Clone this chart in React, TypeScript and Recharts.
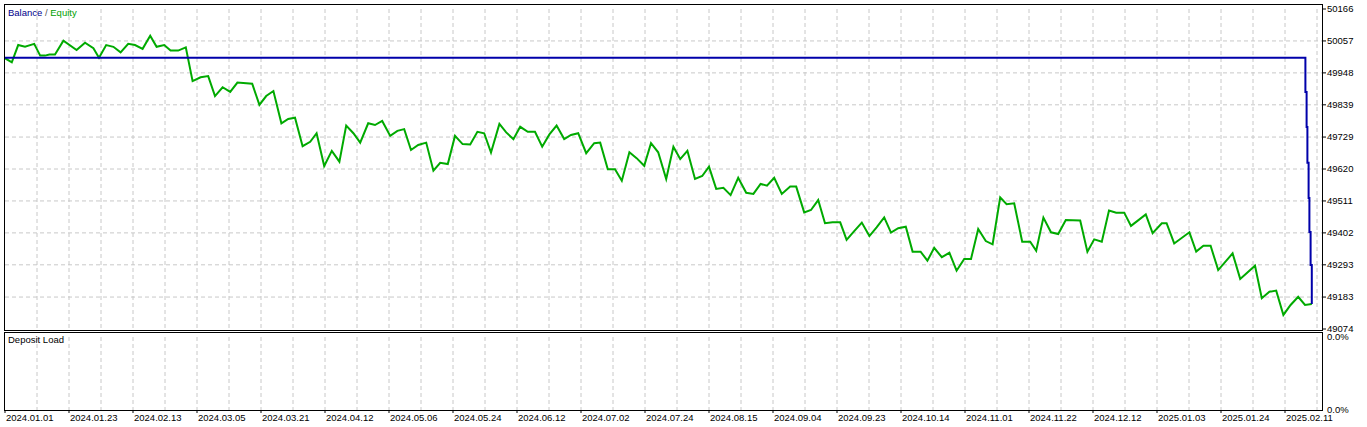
import React from 'react';
import { LineChart, Line, ComposedChart, Bar, XAxis, YAxis, CartesianGrid } from 'recharts';

// ─── Data ─────────────────────────────────────────────────────────────────────

// x is the test step position (bar index along the time axis)
const equityX = [
  0, 1.7, 3.3, 5, 7.3, 8.8, 10, 11.1, 12.5, 14.6, 17.9, 20, 22.1, 23.5, 25.3, 27.1, 28.9, 30.8, 32.5, 34.4,
  36.3, 37.9, 39.8, 41.4, 43.3, 45.2, 46.9, 48.9, 50.8, 52.5, 54.4, 56.3, 58.1, 61.8, 63.6, 65.3, 67.1, 69.1, 70.8, 72.5,
  74.4, 76.3, 77.9, 79.8, 81.7, 83.6, 85.3, 87.1, 88.8, 90.8, 92.5, 94.3, 96.3, 98.1, 99.8, 101.5, 103.3, 105.3, 107.1, 108.8,
  110.7, 112.5, 114.4, 116.3, 118.1, 119.8, 121.5, 123.6, 125.3, 127.1, 128.8, 130.7, 132.5, 134.3, 136.1, 137.9, 139.8, 141.5, 143.3, 145.3,
  147.3, 148.8, 150.7, 152.5, 154.2, 156.1, 157.9, 159.8, 161.5, 163.3, 165.3, 167.1, 168.8, 170.6, 172.5, 174.3, 176, 177.8, 179.6, 181.4,
  183.3, 185.3, 187.1, 188.9, 190.5, 192.3, 194.2, 196.3, 197.8, 199.8, 201.5, 203.3, 205, 206.9, 208.8, 210.4, 212.3, 214.2, 216.1, 217.9,
  219.8, 221.5, 223.3, 225.2, 226.9, 228.9, 230.6, 232.3, 234.2, 236.1, 237.9, 239.8, 241.5, 243.3, 245.2, 246.9, 248.8, 250.4, 252.3, 254.3,
  256.3, 257.8, 259.6, 261.5, 263.3, 265.2, 268.8, 270.6, 272.3, 274.2, 276, 277.8, 279.8, 281.5, 285.2, 286.9, 289.2, 290.4, 292.3, 296.1,
  297.8, 299.6, 301.4, 303.3, 306.9, 308.8, 312.5, 314.2, 316.1, 317.8, 319.6, 321.4, 323.3, 325, 326.7,
];

const equityValues = [
  49998, 49984, 50043, 50037, 50047, 50007, 50007, 50011, 50011, 50058, 50026, 50051, 50032, 50000, 50043, 50037, 50018, 50047, 50043, 50030,
  50075, 50037, 50043, 50024, 50024, 50035, 49920, 49933, 49937, 49869, 49899, 49883, 49915, 49911, 49839, 49869, 49886, 49776, 49791, 49795,
  49698, 49713, 49742, 49630, 49682, 49645, 49768, 49742, 49710, 49776, 49770, 49784, 49733, 49750, 49756, 49685, 49702, 49710, 49614, 49641,
  49637, 49733, 49705, 49704, 49747, 49742, 49676, 49774, 49745, 49722, 49764, 49747, 49747, 49696, 49738, 49768, 49722, 49736, 49742, 49674,
  49708, 49710, 49619, 49619, 49580, 49677, 49657, 49631, 49708, 49677, 49586, 49696, 49654, 49682, 49586, 49596, 49628, 49552, 49556, 49531,
  49590, 49539, 49535, 49569, 49563, 49590, 49535, 49560, 49560, 49472, 49480, 49514, 49435, 49438, 49438, 49378, 49408, 49437, 49391, 49421,
  49455, 49403, 49418, 49423, 49338, 49338, 49307, 49351, 49319, 49334, 49273, 49313, 49313, 49415, 49374, 49363, 49523, 49500, 49503, 49372,
  49372, 49341, 49454, 49404, 49398, 49446, 49444, 49338, 49380, 49372, 49478, 49471, 49471, 49426, 49465, 49401, 49435, 49435, 49366, 49404,
  49338, 49358, 49358, 49275, 49332, 49245, 49290, 49179, 49201, 49205, 49122, 49156, 49184, 49156, 49159,
];

const balanceX = [0, 325.1, 325.4, 325.6, 325.9, 326.1, 326.4, 326.7];
const balanceValues = [50000, 49883, 49763, 49641, 49521, 49405, 49292, 49159];

const depositLoadX = [0, 326.7];
const depositLoadValues = [0, 0];

const yTicks = [49074, 49183, 49293, 49402, 49511, 49620, 49729, 49839, 49948, 50057, 50166];

const xTickLabels = [
  '2024.01.01', '2024.01.23', '2024.02.13', '2024.03.05', '2024.03.21', '2024.04.12', '2024.05.06',
  '2024.05.24', '2024.06.12', '2024.07.02', '2024.07.24', '2024.08.15', '2024.09.04', '2024.09.23',
  '2024.10.14', '2024.11.01', '2024.11.22', '2024.12.12', '2025.01.03', '2025.01.24', '2025.02.11',
];

// ─── Layout helpers ───────────────────────────────────────────────────────────

const W = 1367;
const X_MAX = 329.25;
const LABEL_STEP = 16;
const GRID_STEP = 8;
const FONT = '"Liberation Sans", Arial, sans-serif';
const GRID = '#c8c8c8';

const xTicks = xTickLabels.map((_, i) => i * LABEL_STEP);
const gridX: number[] = [];
for (let v = GRID_STEP; v <= X_MAX; v += GRID_STEP) gridX.push(v);
const gridY = yTicks.slice(1, -1);

const equityData = equityX.map((x, i) => ({ x, v: equityValues[i] }));
const balanceData = balanceX.map((x, i) => ({ x, v: balanceValues[i] }));
const depositData = depositLoadX.map((x, i) => ({ x, v: depositLoadValues[i] }));

const tickFont = { fontSize: 9.5, fill: '#000', fontFamily: FONT };

function DateTick({ x, y, payload }: any) {
  const idx = xTicks.indexOf(payload.value);
  return (
    <text x={x + 1} y={y} dy="0.71em" textAnchor="start" {...tickFont}>
      {xTickLabels[idx] ?? ''}
    </text>
  );
}

const frame = (left: number, top: number, right: number, bottom: number): React.CSSProperties => ({
  position: 'absolute', left, top, width: right - left + 1, height: bottom - top + 1,
  border: '1px solid #000', boxSizing: 'border-box', pointerEvents: 'none',
});

export default function App() {
  return (
    <div style={{ position: 'absolute', left: 0, top: 0, width: W, height: 427, background: '#fff', overflow: 'hidden' }}>
      {/* Deposit load */}
      <div style={{ position: 'absolute', left: 0, top: 332 }}>
        <ComposedChart width={W} height={95} data={depositData} margin={{ top: 5, right: 0, left: 5, bottom: 0 }}>
          <CartesianGrid stroke={GRID} strokeDasharray="4 3" horizontal={false} verticalValues={gridX} />
          <XAxis type="number" dataKey="x" domain={[0, X_MAX]} ticks={xTicks} interval={0} height={17}
                 allowDataOverflow axisLine={false} tickLine={{ stroke: '#000' }} tickSize={3} tickMargin={1}
                 tick={<DateTick />} />
          <YAxis orientation="right" width={45} domain={[0, 0.01]} ticks={[0, 0.01]} interval={0}
                 axisLine={false} tickLine={false} tickSize={4} tickMargin={1}
                 tickFormatter={(v: number) => `${v.toFixed(1)}%`} tick={tickFont} />
          <Bar dataKey="v" fill="#ff8c00" barSize={2} isAnimationActive={false} />
        </ComposedChart>
      </div>

      {/* Balance / Equity */}
      <div style={{ position: 'absolute', left: 0, top: 0 }}>
        <LineChart width={W} height={337} margin={{ top: 9, right: 0, left: 5, bottom: 8 }}>
          <CartesianGrid stroke={GRID} strokeDasharray="4 3" horizontalValues={gridY} verticalValues={gridX} />
          <XAxis type="number" dataKey="x" domain={[0, X_MAX]} hide allowDataOverflow />
          <YAxis orientation="right" width={45} domain={[49074, 50166]} ticks={yTicks} interval={0}
                 allowDataOverflow axisLine={false} tickLine={{ stroke: '#000' }} tickSize={4} tickMargin={1}
                 tick={tickFont} />
          <Line data={equityData} dataKey="v" type="linear" stroke="#00aa00" strokeWidth={2}
                dot={false} isAnimationActive={false} />
          <Line data={balanceData} dataKey="v" type="stepAfter" stroke="#0000aa" strokeWidth={2}
                dot={false} isAnimationActive={false} />
        </LineChart>
      </div>

      <div style={frame(4, 4, 1322, 330)} />
      <div style={frame(4, 332, 1322, 410)} />

      <div style={{ position: 'absolute', left: 8, top: 7, fontFamily: FONT, fontSize: 9.5, lineHeight: '12px', whiteSpace: 'pre' }}>
        <span style={{ color: '#00008b' }}>Balance</span>
        <span style={{ color: '#555' }}> / </span>
        <span style={{ color: '#00a000' }}>Equity</span>
      </div>
      <div style={{ position: 'absolute', left: 8, top: 334, fontFamily: FONT, fontSize: 9.5, lineHeight: '12px', color: '#000' }}>
        Deposit Load
      </div>
    </div>
  );
}
